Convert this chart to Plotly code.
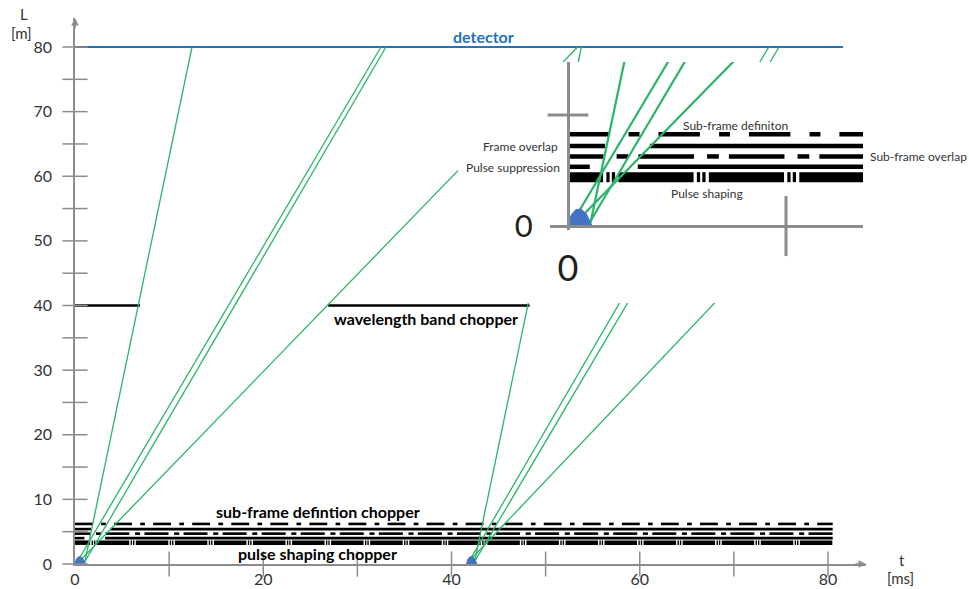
import plotly.graph_objects as go

W, H = 969, 589

# ---------------- axis ticks ----------------
x_tick_vals = [10, 20, 30, 40, 50, 60, 70, 80]
x_label_vals = [0, 20, 40, 60, 80]
y_tick_vals = list(range(0, 85, 5))
y_label_vals = list(range(0, 90, 10))

# ---------------- instrument ----------------
detector_L = 80
detector_span = [0, 81.6]

band_L = 40                      # wavelength band chopper position (m)
band_closed = [[0, 6.9], [26.9, 48.3]]

# neutron pulse at the source (t in ms, height in m)
pulse_t = [0.0, 0.15, 0.35, 0.6, 0.85, 1.1]
pulse_L = [0.0, 0.75, 1.1, 1.15, 0.8, 0.0]
pulse2_offset = 41.6

# flight paths: start time at L=0 and arrival time at L=80
frame1_t0 = [1.0, 0.1, 0.9, 0.2]
frame1_t80 = [12.43, 32.5, 33.04, 53.4]
frame2_t0 = [42.4, 41.7, 42.3, 41.6]
frame2_t80 = [53.8, 73.7, 74.8, 93.8]

# chopper discs near the source
chopper_names = ["Sub-frame definiton", "Frame overlap", "Sub-frame overlap",
                 "Pulse suppression", "Pulse shaping"]
chopper_L = [6.2, 5.4, 4.7, 4.0, 3.3]
chopper_period = [4.15, None, 4.15, None, 4.15]
chopper_open = [
    [[1.9, 2.78], [3.28, 4.15]],
    [[1.7, 3.76]],
    [[1.63, 2.23], [2.77, 3.23]],
    [[1.0, 3.2]],
    [[1.61, 1.76], [1.91, 2.01], [2.16, 2.31]],
]
chopper_end = 80.5

# ---------------- colours ----------------
GREEN = "#2bb36b"
BLUE_LINE = "#2472b9"
PULSE_BLUE = "#4472c4"
AXIS_GREY = "#8c8c8c"
TEXT = "#333333"
FONT = "Lato"

# pixel geometry of the main frame and of the magnified view
MX0, MX_PER = 75, 9.4125      # t=0 at x=75 px
MY0, MY_PER = 564, 6.4625     # L=0 at y=564 px
IX0, IX_PER = 568, 21.8
IY0, IY_PER = 226, 14.8


def px(x):
    return x / W


def py(y):
    return 1 - y / H


def closed_spans(opens, period, t_end):
    """Closed (beam-blocking) intervals of a chopper between 0 and t_end."""
    windows = []
    if period:
        k = 0
        while k * period < t_end:
            windows += [(a + k * period, b + k * period) for a, b in opens]
            k += 1
    else:
        windows = [tuple(w) for w in opens]
    windows.sort()
    spans, t = [], 0.0
    for a, b in windows:
        if a >= t_end:
            break
        a, b = max(a, 0), min(b, t_end)
        if a > t:
            spans.append((t, a))
        t = max(t, b)
    if t < t_end:
        spans.append((t, t_end))
    return spans


def segments(spans, level):
    xs, ys = [], []
    for a, b in spans:
        xs += [a, b, None]
        ys += [level, level, None]
    return xs, ys


def paths(t0s, t80s, top):
    xs, ys = [], []
    for a, b in zip(t0s, t80s):
        xs += [a, b, None]
        ys += [0, top, None]
    return xs, ys


fig = go.Figure()

# ---------- main time-distance diagram ----------
for i, L in enumerate(chopper_L):
    xs, ys = segments(closed_spans(chopper_open[i], chopper_period[i], chopper_end), L)
    fig.add_trace(go.Scatter(x=xs, y=ys, mode="lines", xaxis="x", yaxis="y",
                             line=dict(color="black", width=4.5 if i == 4 else 2.6)))

xs, ys = segments(band_closed, band_L)
fig.add_trace(go.Scatter(x=xs, y=ys, mode="lines", line=dict(color="black", width=2.4)))

fig.add_trace(go.Scatter(x=detector_span, y=[detector_L] * 2, mode="lines",
                         line=dict(color=BLUE_LINE, width=2)))

for t0s, t80s in [(frame1_t0, frame1_t80), (frame2_t0, frame2_t80)]:
    xs, ys = paths(t0s, t80s, detector_L)
    fig.add_trace(go.Scatter(x=xs, y=ys, mode="lines", line=dict(color=GREEN, width=1.3)))

for off in [0, pulse2_offset]:
    fig.add_trace(go.Scatter(x=[t + off for t in pulse_t], y=pulse_L, mode="lines",
                             fill="toself", fillcolor=PULSE_BLUE,
                             line=dict(color=PULSE_BLUE, width=1)))

# crossing tick marks of the main axes
fig.add_trace(go.Scatter(x=x_tick_vals, y=[0] * len(x_tick_vals), mode="markers",
                         cliponaxis=False,
                         marker=dict(symbol="line-ns", size=18,
                                     line=dict(color=AXIS_GREY, width=1.5))))
fig.add_trace(go.Scatter(x=[0] * len(y_tick_vals), y=y_tick_vals, mode="markers",
                         cliponaxis=False,
                         marker=dict(symbol="line-ew", size=18,
                                     line=dict(color=AXIS_GREY, width=1.5))))

# ---------- white panel holding the magnified view ----------
fig.add_trace(go.Scatter(x=[None], y=[None], xaxis="x2", yaxis="y2", mode="lines"))

# ---------- magnified view of the source region ----------
inset_t_end = 14
for i, L in enumerate(chopper_L):
    xs, ys = segments(closed_spans(chopper_open[i], chopper_period[i], inset_t_end), L)
    fig.add_trace(go.Scatter(x=xs, y=ys, mode="lines", xaxis="x3", yaxis="y3",
                             line=dict(color="black", width=10 if i == 4 else 4.5)))

xs, ys = paths(frame1_t0, frame1_t80, detector_L)
fig.add_trace(go.Scatter(x=xs, y=ys, mode="lines", xaxis="x3", yaxis="y3",
                         line=dict(color=GREEN, width=2.2)))
fig.add_trace(go.Scatter(x=pulse_t, y=pulse_L, mode="lines", xaxis="x3", yaxis="y3",
                         fill="toself", fillcolor=PULSE_BLUE,
                         line=dict(color=PULSE_BLUE, width=1)))
fig.add_trace(go.Scatter(x=[10], y=[0], mode="markers", xaxis="x3", yaxis="y3",
                         cliponaxis=False,
                         marker=dict(symbol="line-ns", size=43,
                                     line=dict(color=AXIS_GREY, width=3))))
fig.add_trace(go.Scatter(x=[0], y=[7.5], mode="markers", xaxis="x3", yaxis="y3",
                         cliponaxis=False,
                         marker=dict(symbol="line-ew", size=29,
                                     line=dict(color=AXIS_GREY, width=3))))

# ---------- text ----------
ann = []


def label(text, x, y, size=15, bold=False, color=TEXT, xanchor="center", **kw):
    ann.append(dict(text=f"<b>{text}</b>" if bold else text, x=x, y=y,
                    showarrow=False, xanchor=xanchor, yanchor="middle",
                    font=dict(family=FONT, size=size, color=color), **kw))


label("L", px(24), py(14), xref="paper", yref="paper")
label("[m]", px(21), py(33), xref="paper", yref="paper")
label("t", px(902), py(560), xref="paper", yref="paper")
label("[ms]", px(900), py(578), xref="paper", yref="paper")

label("detector", 43.35, detector_L, size=16, bold=True, color=BLUE_LINE,
      xref="x", yref="y", yshift=10)
label("wavelength band chopper", 37.3, band_L, size=16, bold=True, color="black",
      xref="x", yref="y", yshift=-13)
label("sub-frame defintion chopper", 25.8, chopper_L[0], size=16, bold=True,
      color="black", xref="x", yref="y", yshift=12)
label("pulse shaping chopper", 25.8, chopper_L[4], size=16, bold=True,
      color="black", xref="x", yref="y", yshift=-11)

label(chopper_names[0], px(735), py(125), size=12, xref="paper", yref="paper")
label(chopper_names[1], px(560), py(146), size=12, xanchor="right",
      xref="paper", yref="paper")
label(chopper_names[2], px(868), py(157), size=12, xanchor="left",
      xref="paper", yref="paper")
label(chopper_names[3], px(562), py(167), size=12, xanchor="right",
      xref="paper", yref="paper")
label(chopper_names[4], px(707), py(193), size=12, xref="paper", yref="paper")

# axis arrow heads
x_top = (MY0 - 18) / MY_PER
x_right = (866 - MX0) / MX_PER
ann.append(dict(x=0, y=x_top, xref="x", yref="y", ax=0, ay=12, text="",
                showarrow=True, arrowhead=2, arrowsize=1, arrowwidth=1.5,
                arrowcolor=AXIS_GREY))
ann.append(dict(x=x_right, y=0, xref="x", yref="y", ax=-12, ay=0, text="",
                showarrow=True, arrowhead=2, arrowsize=1, arrowwidth=1.5,
                arrowcolor=AXIS_GREY))

tickfont = dict(family=FONT, size=16, color=TEXT)
big0 = dict(family=FONT, size=34, color="#222222")

fig.update_layout(
    width=W, height=H, margin=dict(l=0, r=0, t=0, b=0, autoexpand=False),
    paper_bgcolor="white", plot_bgcolor="white", showlegend=False,
    annotations=ann,
    xaxis=dict(domain=[px(MX0), px(866)], range=[0, x_right], anchor="y",
               automargin=False,
               showline=True, linecolor=AXIS_GREY, linewidth=1.5,
               showgrid=False, zeroline=False, ticks="",
               tickvals=x_label_vals, tickfont=tickfont, ticklabelstandoff=0),
    yaxis=dict(domain=[py(MY0), py(18)], range=[0, x_top], anchor="x",
               automargin=False,
               showline=True, linecolor=AXIS_GREY, linewidth=1.5,
               showgrid=False, zeroline=False, ticks="",
               tickvals=y_label_vals, tickfont=tickfont, ticklabelstandoff=18),
    xaxis2=dict(domain=[px(458), 1], range=[0, 1], anchor="y2", visible=False,
                automargin=False),
    yaxis2=dict(domain=[py(303), py(62)], range=[0, 1], anchor="x2", visible=False,
                automargin=False),
    xaxis3=dict(domain=[px(550), px(863)],
                range=[(550 - IX0) / IX_PER, (863 - IX0) / IX_PER],
                anchor="free", position=py(IY0), automargin=False,
                showline=True, linecolor=AXIS_GREY, linewidth=3,
                showgrid=False, zeroline=False, ticks="",
                tickvals=[0], tickfont=dict(big0, size=36), ticklabelstandoff=10),
    yaxis3=dict(domain=[py(230), py(62)],
                range=[(IY0 - 230) / IY_PER, (IY0 - 62) / IY_PER],
                anchor="free", position=px(IX0), automargin=False,
                showline=True, linecolor=AXIS_GREY, linewidth=3,
                showgrid=False, zeroline=False, ticks="",
                tickvals=[0], tickfont=dict(big0, size=31), ticklabelstandoff=28),
)

fig.write_html("out.html")
